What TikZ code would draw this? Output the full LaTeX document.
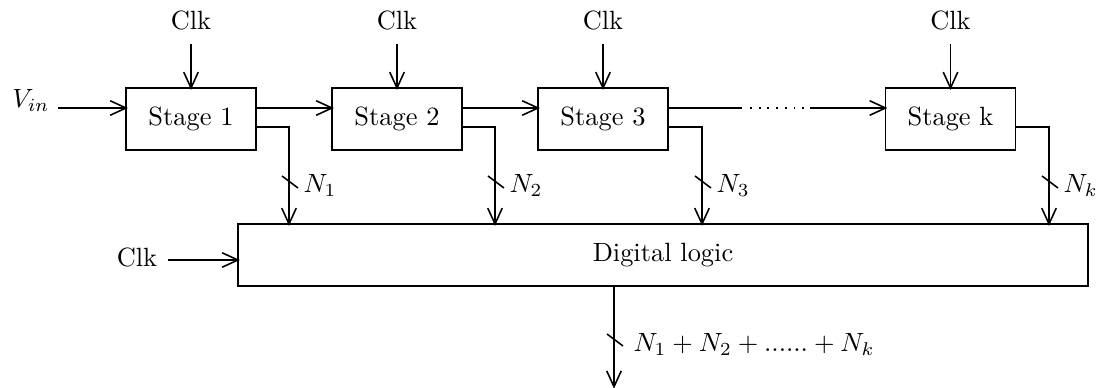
\documentclass[tikz,border=0pt]{standalone}
\usetikzlibrary{arrows.meta,calc}
\begin{document}
\begin{tikzpicture}[x=0.3788pt,y=-0.3788pt,
  box/.style={draw, line width=0.6pt, minimum width=49.2pt, minimum height=23.5pt, inner sep=0pt},
  arr/.style={-{Straight Barb[length=6pt,width=5.5pt]}, line width=0.6pt, shorten >=-1pt},
  ln/.style={line width=0.6pt},
  lbl/.style={inner sep=0pt},
  dots/.style={line width=0.7pt, dash pattern=on 0.7pt off 2.6pt}]
\useasboundingbox (0,0) rectangle (1097,387);

% stages
\node[box] (s1) at (191,119) {Stage 1};
\node[box] (s2) at (397,119) {Stage 2};
\node[box] (s3) at (603,119) {Stage 3};
\node[box] (sk) at (950.5,119) {Stage k};
\node[box, minimum width=322pt] (dl) at (663,255) {Digital logic};

% clocks on top
\foreach \s/\x in {s1/191, s2/397, s3/603, sk/950.5}{
  \node[lbl] (clk\s) at (\x,20) {Clk};
  \coordinate (ck\s) at (\x,44);
  \draw[arr] (ck\s) -- (\s.north);
}

% input
\node[lbl] (vin) at (31,100) {$V_{in}$};
\coordinate (vinS) at (58,108);
\draw[arr] (vinS) -- ($(s1.west)+(0,-11)$);

% chain
\draw[arr] ($(s1.east)+(0,-11)$) -- ($(s2.west)+(0,-11)$);
\draw[arr] ($(s2.east)+(0,-11)$) -- ($(s3.west)+(0,-11)$);
\coordinate (d1) at (742,108);
\coordinate (d2) at (810,108);
\draw[ln] ($(s3.east)+(0,-11)$) -- (d1);
\draw[dots] (750,108) -- (805,108);
\draw[arr] (d2) -- ($(sk.west)+(0,-11)$);

% outputs to digital logic
\foreach \s/\x/\n in {s1/289/1, s2/495/2, s3/702/3, sk/1049/k}{
  \coordinate (n\s) at (\x,182);
  \draw[arr] ($(\s.east)+(0,8)$) -| (n\s) -- (n\s |- dl.north);
  \draw[ln] ($(n\s)+(-7,-6)$) -- ($(n\s)+(9,6)$);
  \node[lbl, anchor=west] (lab\s) at ($(n\s)+(14,3)$) {$N_\n$};
}

% clock into digital logic
\node[lbl] (clkdl) at (137,257) {Clk};
\coordinate (cdl) at (168,260);
\draw[arr] (cdl) -- (cdl -| dl.west);

% output
\coordinate (outs) at (614,340);
\coordinate (outend) at (614,386);
\draw[arr] (outs |- dl.south) -- (outend);
\draw[ln] ($(outs)+(-7,-6)$) -- ($(outs)+(9,6)$);
\node[lbl, anchor=west] (sum) at ($(outs)+(19,4)$) {$N_1+N_2+......+N_k$};
\end{tikzpicture}
\end{document}
